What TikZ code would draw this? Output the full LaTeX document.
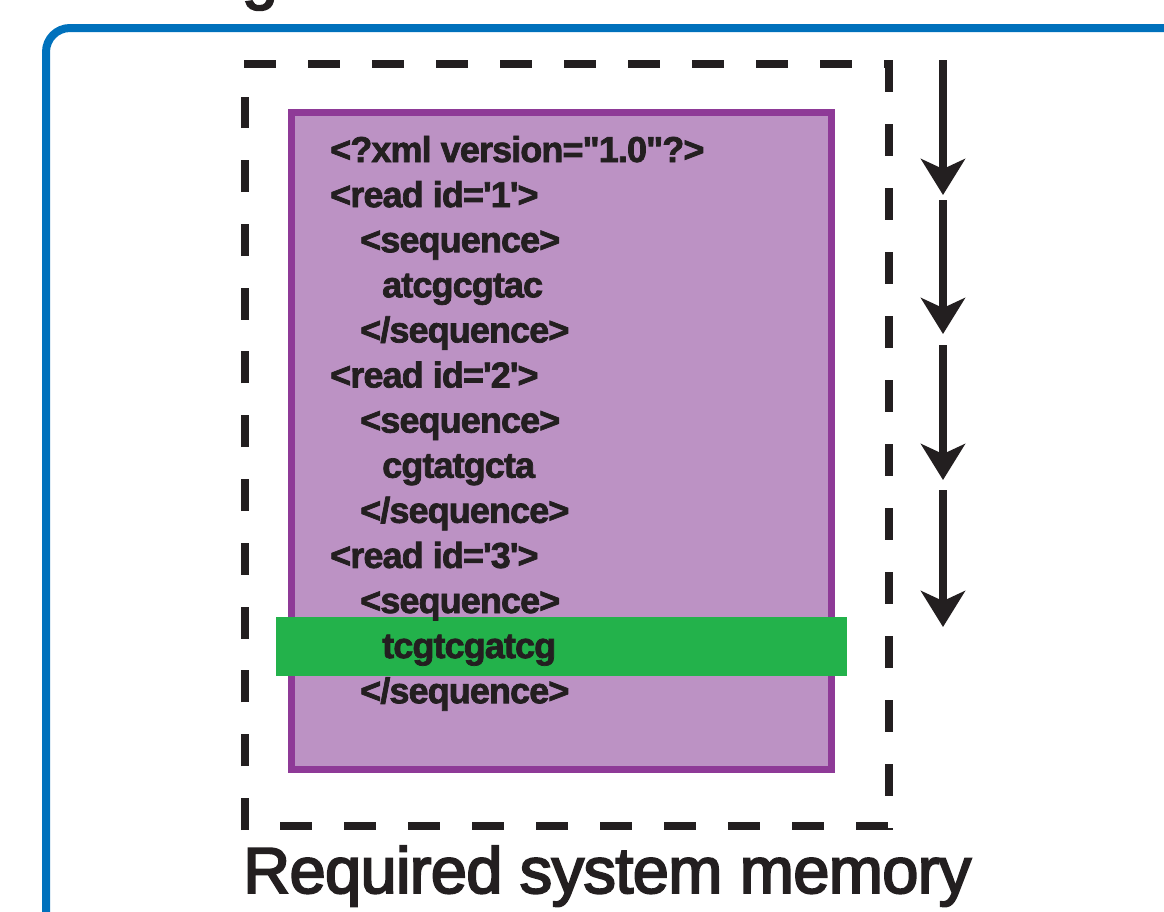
\documentclass[tikz,border=0pt]{standalone}
\usepackage{fontspec}
\setmainfont{Liberation Sans}
\newfontfamily\codefont[LetterSpace=-2.5, FakeBold=2]{Liberation Sans}
\newfontfamily\capfont[LetterSpace=-1, FakeBold=3]{Liberation Sans}
\usetikzlibrary{arrows.meta}

\definecolor{frameblue}{HTML}{0071BC}
\definecolor{docfill}{HTML}{BC92C4}
\definecolor{docline}{HTML}{8E3A97}
\definecolor{hilite}{HTML}{23B24B}
\definecolor{ink}{HTML}{231F20}

\tikzset{
  codeline/.style={anchor=base west, inner sep=0pt, text=ink,
    font=\codefont\bfseries\fontsize{36}{36}\selectfont},
  memline/.style={draw=ink, line width=8pt, dash pattern=on 32pt off 32pt},
  readstep/.style={draw=ink, line width=8pt,
    -{Stealth[length=36pt, width=44pt, inset=10pt]}},
}

\begin{document}
\begin{tikzpicture}[x=1pt, y=-1pt]
\useasboundingbox (0,0) rectangle (1164,911);

% cut-off heading above the frame
\node[anchor=base west, inner sep=0pt, text=ink,
      font=\capfont\fontsize{64}{64}\selectfont] (head) at (242,-3) {g};

% outer frame
\draw[frameblue, line width=8pt, rounded corners=24pt]
  (46,960) -- (46,28) -- (1220,28);

% memory region (dashed)
\draw[memline] (244,64) -- (893,64);
\draw[memline] (889,60) -- (889,830);
\draw[memline] (280,826) -- (893,826);
\draw[memline, dash pattern=on 32pt off 31.8pt] (245,830) -- (245,97);

% XML document
\node[draw=docline, fill=docfill, line width=7pt, inner sep=0pt,
      minimum width=540pt, minimum height=657pt] (doc) at (561,440.5) {};

% highlighted record
\node[fill=hilite, inner sep=0pt, minimum width=571pt, minimum height=59pt]
  (cur) at (561.5,646.5) {};

% document text
\foreach \i/\x/\t in {
  0/330/{<?xml version="1.0"?>},
  1/330/{<read id='1'>},
  2/360/{<sequence>},
  3/382/{atcgcgtac},
  4/360/{</sequence>},
  5/330/{<read id='2'>},
  6/360/{<sequence>},
  7/382/{cgtatgcta},
  8/360/{</sequence>},
  9/330/{<read id='3'>},
  10/360/{<sequence>},
  11/382/{tcgtcgatcg},
  12/360/{</sequence>}}
  \node[codeline] (line\i) at (\x, 162+45.1*\i) {\t};

% streaming steps
\coordinate (s0) at (943,60);
\coordinate (e0) at (943,195);
\coordinate (s1) at (943,200);
\coordinate (e1) at (943,334);
\coordinate (s2) at (943,345);
\coordinate (e2) at (943,480);
\coordinate (s3) at (943,490);
\coordinate (e3) at (943,627);
\foreach \k in {0,...,3} \draw[readstep] (s\k) -- (e\k);

% caption
\node[anchor=base west, inner sep=0pt, text=ink,
      font=\capfont\fontsize{65}{65}\selectfont] (label) at (243,893)
  {Required system memory};
\end{tikzpicture}
\end{document}
